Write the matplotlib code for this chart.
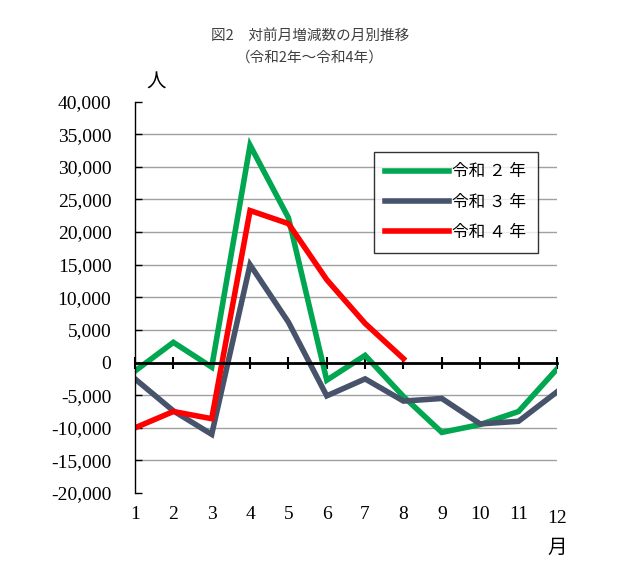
import matplotlib
matplotlib.use("Agg")
import matplotlib.pyplot as plt
import matplotlib.transforms as mtransforms

months = [1, 2, 3, 4, 5, 6, 7, 8, 9, 10, 11, 12]
r2 = [-1300, 3100, -700, 33300, 22200, -2700, 1100, -5200, -10700, -9500, -7500, -1000]
r3 = [-2500, -7400, -11000, 15000, 6200, -5100, -2500, -5900, -5500, -9400, -9000, -4500]
r4_months = [1, 2, 3, 4, 5, 6, 7, 8]
r4 = [-10000, -7500, -8600, 23300, 21300, 12700, 6000, 600]
labels = ["令和 ２ 年", "令和 ３ 年", "令和 ４ 年"]
yticks = [40000, 35000, 30000, 25000, 20000, 15000, 10000, 5000, 0,
          -5000, -10000, -15000, -20000]

plt.rcParams['font.family'] = ['Noto Sans CJK JP', 'DejaVu Sans']

fig = plt.figure(figsize=(6.25, 5.74), dpi=100)
ax = fig.add_axes([0.216, 0.141, 0.675, 0.682])

ax.plot(months, r2, color='#00a650', lw=4, label=labels[0], solid_joinstyle='miter')
ax.plot(months, r3, color='#46536a', lw=4, label=labels[1], solid_joinstyle='miter')
ax.plot(r4_months, r4, color='#ff0000', lw=4, label=labels[2], solid_joinstyle='miter')

ax.set_xlim(1, 12)
ax.set_ylim(-20000, 40000)
ax.set_yticks(yticks)
ax.set_yticklabels([f"{v:,}" for v in yticks], family=['Liberation Serif'], fontsize=14)
ax.tick_params(axis='y', direction='in', length=5, width=1, pad=17)
ax.yaxis.grid(True, color='#a0a0a0', lw=1)
ax.set_axisbelow(True)
ax.get_ygridlines()[0].set_visible(False)
ax.get_ygridlines()[-1].set_visible(False)

ax.spines['top'].set_visible(False)
ax.spines['right'].set_visible(False)
ax.spines['left'].set_linewidth(1)
ax.spines['bottom'].set_position(('data', 0))
ax.spines['bottom'].set_linewidth(2)
ax.spines['bottom'].set_zorder(3)
ax.set_xticks(months)
ax.tick_params(axis='x', direction='inout', length=9, width=1.5, labelbottom=False)

trans = mtransforms.blended_transform_factory(ax.transData, ax.transAxes)
for m in months:
    dy = -0.066 if m == 12 else -0.056
    ax.text(m, dy, str(m), transform=trans, ha='center', va='center',
            family=['Liberation Serif'], fontsize=14)

leg = ax.legend(loc='upper left', bbox_to_anchor=(0.566, 0.872), fontsize=12,
                frameon=True, fancybox=False, edgecolor='black', handlelength=3.8,
                handletextpad=0.2, labelspacing=0.8, borderpad=0.7, borderaxespad=0)
leg.get_frame().set_linewidth(1)

fig.text(0.496, 0.938, "図2　対前月増減数の月別推移", ha='center', va='center',
         fontsize=10.5, color='#404040')
fig.text(0.496, 0.899, "（令和2年～令和4年）", ha='center', va='center',
         fontsize=10.5, color='#404040')
fig.text(0.250, 0.857, "人", ha='center', va='center', fontsize=14)
fig.text(0.891, 0.047, "月", ha='center', va='center', fontsize=14)

fig.savefig('out.png', dpi=100)
